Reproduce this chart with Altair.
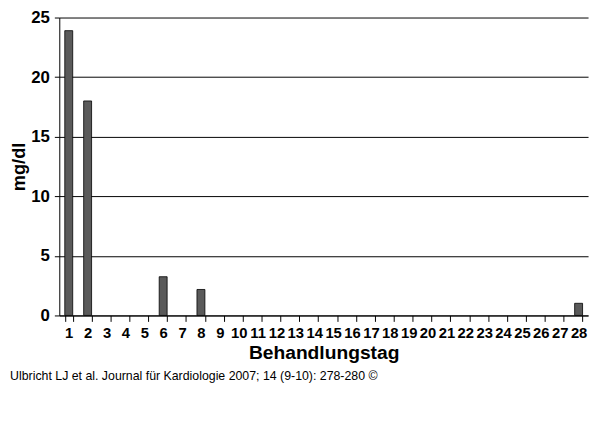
import altair as alt
import pandas as pd

days = [str(d) for d in range(1, 29)]
values = [23.9, 18.0, 0, 0, 0, 3.25, 0, 2.18] + [0] * 19 + [1.02]

df = pd.DataFrame({"day": days, "value": values})

FONT = "Liberation Sans"

chart = alt.Chart(df).transform_filter(
    "datum.value > 0"
).mark_bar(
    color="#5a5a5a", stroke="#000000", strokeWidth=0.8
).encode(
    x=alt.X(
        "day:N",
        sort=days,
        scale=alt.Scale(domain=days, paddingInner=0.58, paddingOuter=0.29),
        axis=alt.Axis(
            title="Behandlungstag",
            titleFont=FONT, titleFontSize=19.5, titleFontWeight="bold",
            titleColor="#000", titlePadding=4,
            labelFont=FONT, labelFontSize=15, labelFontWeight="bold",
            labelColor="#000", labelAngle=0, labelPadding=4,
            tickBand="extent", tickColor="#000", tickSize=6,
            domainColor="#000", labelOverlap=False,
        ),
    ),
    y=alt.Y(
        "value:Q",
        scale=alt.Scale(domain=[0, 25], nice=False),
        axis=alt.Axis(
            title="mg/dl",
            values=[0, 5, 10, 15, 20, 25],
            titleFont=FONT, titleFontSize=18.5, titleFontWeight="bold",
            titleColor="#000", titlePadding=2,
            labelFont=FONT, labelFontSize=17, labelFontWeight="bold",
            labelColor="#000", labelPadding=5,
            tickColor="#000", tickSize=5,
            domainColor="#000",
            grid=True, gridColor="#000", gridWidth=1, gridOpacity=1,
        ),
    ),
).properties(
    width=536,
    height=302,
    autosize=alt.AutoSizeParams(type="none"),
    padding={"left": 52, "top": 7, "right": 4, "bottom": 80},
    title=alt.TitleParams(
        "Ulbricht LJ et al. Journal für Kardiologie 2007; 14 (9-10): 278-280 ©",
        orient="bottom", anchor="start", font=FONT, fontSize=12.5,
        fontWeight="normal", color="#000", offset=8,
    ),
).configure_view(
    stroke=None
)

chart.save("out.html", embed_options={"renderer": "svg", "actions": False})
